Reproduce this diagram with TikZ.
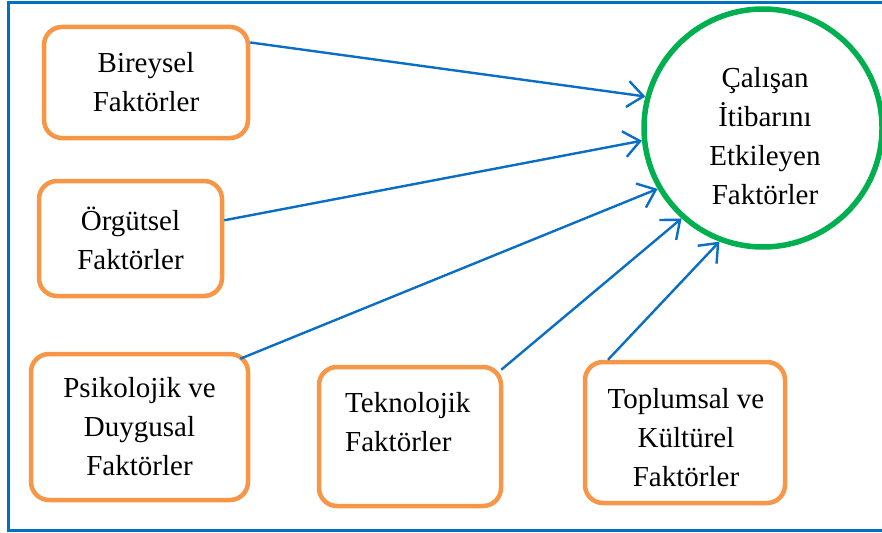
\documentclass[tikz,border=0pt]{standalone}
\usepackage{fontspec}
\setmainfont{LiberationSerif}[
  Extension=.ttf,
  UprightFont=*-Regular,
  BoldFont=*-Bold]
\usetikzlibrary{arrows.meta}
\definecolor{frameblue}{HTML}{0070C0}
\definecolor{arrowblue}{HTML}{0B6EC5}
\definecolor{boxorange}{HTML}{F79646}
\definecolor{ringgreen}{HTML}{00B050}
\begin{document}
\begin{tikzpicture}[x=1pt,y=-1pt,
  txt/.style={font=\fontsize{29}{39}\selectfont},
  factor/.style={txt, draw=boxorange, line width=4.5pt, rounded corners=18pt,
    align=center, inner sep=0pt},
  core/.style={circle, draw=ringgreen, line width=5.5pt,
    inner sep=0pt, minimum size=238pt},
  plain/.style={txt, inner sep=0pt},
  link/.style={draw=arrowblue, line width=2.4pt,
    -{Straight Barb[length=16pt,width=26pt]}}]
\useasboundingbox (0,0) rectangle (882,532);
% outer frame
\draw[frameblue, line width=3pt] (8.5,3) rectangle (900,530);

% central circle and its caption
\node[core] (c) at (763,128) {};
\node[plain, align=center] (ct) at (765,136)
  {Çalışan\\İtibarını\\Etkileyen\\Faktörler};

% factor boxes
\node[factor, minimum width=204pt, minimum height=111pt] (b1) at (146,82.5)
  {Bireysel\\Faktörler};
\node[factor, minimum width=183pt, minimum height=115pt] (b2) at (130.5,238.5)
  {Örgütsel\\Faktörler};
\node[factor, minimum width=217pt, minimum height=146pt] (b3) at (139.5,427)
  {Psikolojik ve\\Duygusal\\Faktörler};
\node[factor, minimum width=182pt, minimum height=139pt] (b4) at (410,436.5) {};
\node[plain, align=left, anchor=north west] (b4t) at (345,392)
  {Teknolojik\\Faktörler};
\node[factor, minimum width=200pt, minimum height=141pt] (b5) at (685,432.5) {};
\node[plain, align=center] (b5t) at (686,438)
  {Toplumsal ve\\Kültürel\\Faktörler};

% connectors
\draw[link] (b1.21) -- (c.165.5);
\draw[link] (b2.11) -- (c.186.7);
\draw[link] ([xshift=-10pt,yshift=-7pt]b3.north east) -- (c.210.4);
\draw[link] ([xshift=-2pt,yshift=-5pt]b4.north east) -- (c.228.5);
\draw[link] ([xshift=-77pt]b5.north) -- (c.249);
\end{tikzpicture}
\end{document}
